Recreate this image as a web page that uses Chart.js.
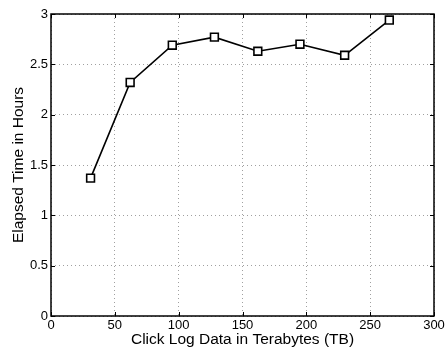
<!DOCTYPE html>
<html>
<head>
<meta charset="utf-8">
<script src="https://cdn.jsdelivr.net/npm/chart.js@4"></script>
<style>
  html, body { margin: 0; padding: 0; background: #fff; }
  #wrap { width: 447px; height: 350px; }
</style>
</head>
<body>
<div id="wrap"><canvas id="elapsedChart" width="447" height="350"></canvas></div>
<script>
// data
const dataSizes = [31, 62, 95, 128, 162, 195, 230, 265];
const elapsedHours = [1.37, 2.32, 2.69, 2.77, 2.63, 2.70, 2.59, 2.94];
const xTicks = [0, 50, 100, 150, 200, 250, 300];
const yTicks = [0, 0.5, 1, 1.5, 2, 2.5, 3];

const FONT = "'Liberation Sans', Arial, Helvetica, sans-serif";

// MATLAB-like frame: box round the plot area and small inward ticks on all sides
const framePlugin = {
  id: "frame",
  afterDraw(chart) {
    const { ctx, chartArea: a, scales } = chart;
    ctx.save();
    ctx.strokeStyle = "#000";
    ctx.lineWidth = 1.5;
    ctx.strokeRect(a.left, a.top, a.right - a.left, a.bottom - a.top);
    ctx.lineWidth = 1;
    ctx.beginPath();
    xTicks.forEach((v) => {
      const px = Math.round(scales.x.getPixelForValue(v)) + 0.5;
      ctx.moveTo(px, a.bottom); ctx.lineTo(px, a.bottom - 4);
      ctx.moveTo(px, a.top); ctx.lineTo(px, a.top + 4);
    });
    yTicks.forEach((v) => {
      const py = Math.round(scales.y.getPixelForValue(v)) + 0.5;
      ctx.moveTo(a.left, py); ctx.lineTo(a.left + 4, py);
      ctx.moveTo(a.right, py); ctx.lineTo(a.right - 4, py);
    });
    ctx.stroke();
    ctx.restore();
  },
};

document.addEventListener("DOMContentLoaded", function () {
  const ctx = document.getElementById("elapsedChart");

  new Chart(ctx, {
    type: "line",
    data: {
      datasets: [
        {
          data: dataSizes.map((x, i) => ({ x: x, y: elapsedHours[i] })),
          borderColor: "#000",
          borderWidth: 1.6,
          tension: 0,
          pointStyle: "rect",
          pointRadius: 5.5,
          pointBorderWidth: 1.6,
          pointBorderColor: "#000",
          pointBackgroundColor: "#fff",
        },
      ],
    },
    options: {
      responsive: false,
      animation: false,
      devicePixelRatio: 1,
      layout: { padding: { top: 14, right: 13, left: 0, bottom: 0 } },
      plugins: {
        legend: { display: false },
        tooltip: { enabled: false },
      },
      scales: {
        x: {
          type: "linear",
          min: 0,
          max: 300,
          afterBuildTicks: (s) => { s.ticks = xTicks.map((v) => ({ value: v })); },
          afterFit: (s) => { s.height = 34; },
          grid: { color: "#a0a0a0", lineWidth: 1, drawTicks: false },
          border: { display: false, dash: [1, 3] },
          ticks: {
            color: "#000",
            padding: 2,
            maxRotation: 0,
            font: { family: FONT, size: 13 },
            callback: (v) => String(v),
          },
          title: {
            display: true,
            text: "Click Log Data in Terabytes (TB)",
            color: "#000",
            font: { family: FONT, size: 15.5 },
            padding: { top: 0, bottom: 1 },
          },
        },
        y: {
          type: "linear",
          min: 0,
          max: 3,
          afterBuildTicks: (s) => { s.ticks = yTicks.map((v) => ({ value: v })); },
          afterFit: (s) => { s.width = 51; },
          grid: { color: "#a0a0a0", lineWidth: 1, drawTicks: false },
          border: { display: false, dash: [1, 3] },
          ticks: {
            color: "#000",
            padding: 3,
            font: { family: FONT, size: 13 },
            callback: (v) => String(v),
          },
          title: {
            display: true,
            text: "Elapsed Time in Hours",
            color: "#000",
            font: { family: FONT, size: 15.5 },
            padding: { top: 9, bottom: 0 },
          },
        },
      },
    },
    plugins: [framePlugin],
  });
});
</script>
</body>
</html>
